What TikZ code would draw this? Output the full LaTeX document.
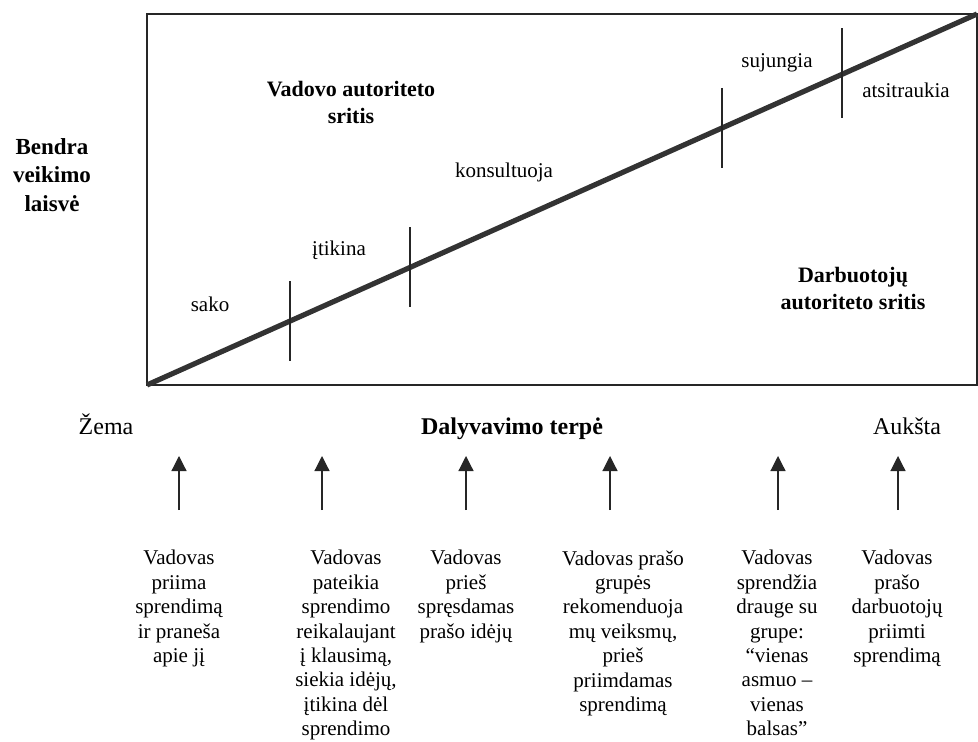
\documentclass[tikz,border=0pt]{standalone}
\usepackage{fontspec}
\setmainfont{Liberation Serif}
\usetikzlibrary{arrows.meta}
\begin{document}
\begin{tikzpicture}[
        x=0.5pt, y=-0.5pt,
        boldn/.style={font=\bfseries\fontsize{11}{13.5}\selectfont, align=center, inner sep=0pt},
        labn/.style={font=\fontsize{10.5}{12}\selectfont, inner sep=0pt},
        axisn/.style={font=\fontsize{12}{14}\selectfont, inner sep=0pt, anchor=base},
        descn/.style={font=\fontsize{10.5}{12.2}\selectfont, align=center, anchor=north, inner sep=0pt},
        frame/.style={draw=black!85, line width=1pt},
        diag/.style={draw=black!80, line width=2.6pt},
        tickl/.style={draw=black!85, line width=0.6pt},
        uparr/.style={draw=black!85, line width=0.6pt, -{Triangle[width=7.5pt,length=7.5pt]}},
    ]
    \useasboundingbox (0,0) rectangle (978,742);
    % frame and diagonal
    \coordinate (sw) at (147,385);
    \coordinate (ne) at (977,14);
    \draw[frame] (sw) rectangle (ne);
    \draw[diag] (sw) -- (ne);
    \path (sw) -- (ne)
        coordinate[pos=0.1723] (t1)
        coordinate[pos=0.3169] (t2)
        coordinate[pos=0.6928] (t3)
        coordinate[pos=0.8373] (t4);
    \draw[tickl] ([yshift=20pt]t1) -- ([yshift=-20pt]t1);
    \draw[tickl] ([yshift=20pt]t2) -- ([yshift=-20pt]t2);
    \draw[tickl] ([yshift=20pt]t3) -- ([yshift=-20pt]t3);
    \draw[tickl] ([yshift=23pt]t4) -- ([yshift=-22pt]t4);
    % labels inside
    \node[labn] (sako) at (210,304) {sako};
    \node[labn] (itik) at (339,250) {įtikina};
    \node[labn] (kons) at (504,172) {konsultuoja};
    \node[labn] (suj) at (777,63) {sujungia};
    \node[labn] (ats) at (906,90) {atsitraukia};
    \node[boldn] (vad) at (351,102) {Vadovo autoriteto\\sritis};
    \node[boldn] (darb) at (853,289) {Darbuotojų\\autoriteto sritis};
    \node[boldn, font=\bfseries\fontsize{11.5}{14.25}\selectfont] (bendra) at (52,175) {Bendra\\veikimo\\laisvė};
    % axis
    \node[axisn] (zema) at (106,435) {Žema};
    \node[axisn, font=\bfseries\fontsize{12}{14}\selectfont] (terpe) at (512,435) {Dalyvavimo terpė};
    \node[axisn] (auksta) at (907,435) {Aukšta};
    % arrows
    \coordinate (ab1) at (179,510); \coordinate (at1) at (179,456);
    \coordinate (ab2) at (322,510); \coordinate (at2) at (322,456);
    \coordinate (ab3) at (466,510); \coordinate (at3) at (466,456);
    \coordinate (ab4) at (610,510); \coordinate (at4) at (610,456);
    \coordinate (ab5) at (778,510); \coordinate (at5) at (778,456);
    \coordinate (ab6) at (898,510); \coordinate (at6) at (898,456);
    \draw[uparr] (ab1) -- (at1);
    \draw[uparr] (ab2) -- (at2);
    \draw[uparr] (ab3) -- (at3);
    \draw[uparr] (ab4) -- (at4);
    \draw[uparr] (ab5) -- (at5);
    \draw[uparr] (ab6) -- (at6);
    % descriptions
    \node[descn] (d1) at (179,550) {Vadovas\\priima\\sprendimą\\ir praneša\\apie jį};
    \node[descn] (d2) at (346,550) {Vadovas\\pateikia\\sprendimo\\reikalaujant\\į klausimą,\\siekia idėjų,\\įtikina dėl\\sprendimo};
    \node[descn] (d3) at (466,550) {Vadovas\\prieš\\spręsdamas\\prašo idėjų};
    \node[descn] (d4) at (623,550) {Vadovas prašo\\grupės\\rekomenduoja\\mų veiksmų,\\prieš\\priimdamas\\sprendimą};
    \node[descn] (d5) at (777,550) {Vadovas\\sprendžia\\drauge su\\grupe:\\“vienas\\asmuo –\\vienas\\balsas”};
    \node[descn] (d6) at (897,550) {Vadovas\\prašo\\darbuotojų\\priimti\\sprendimą};
\end{tikzpicture}
\end{document}
